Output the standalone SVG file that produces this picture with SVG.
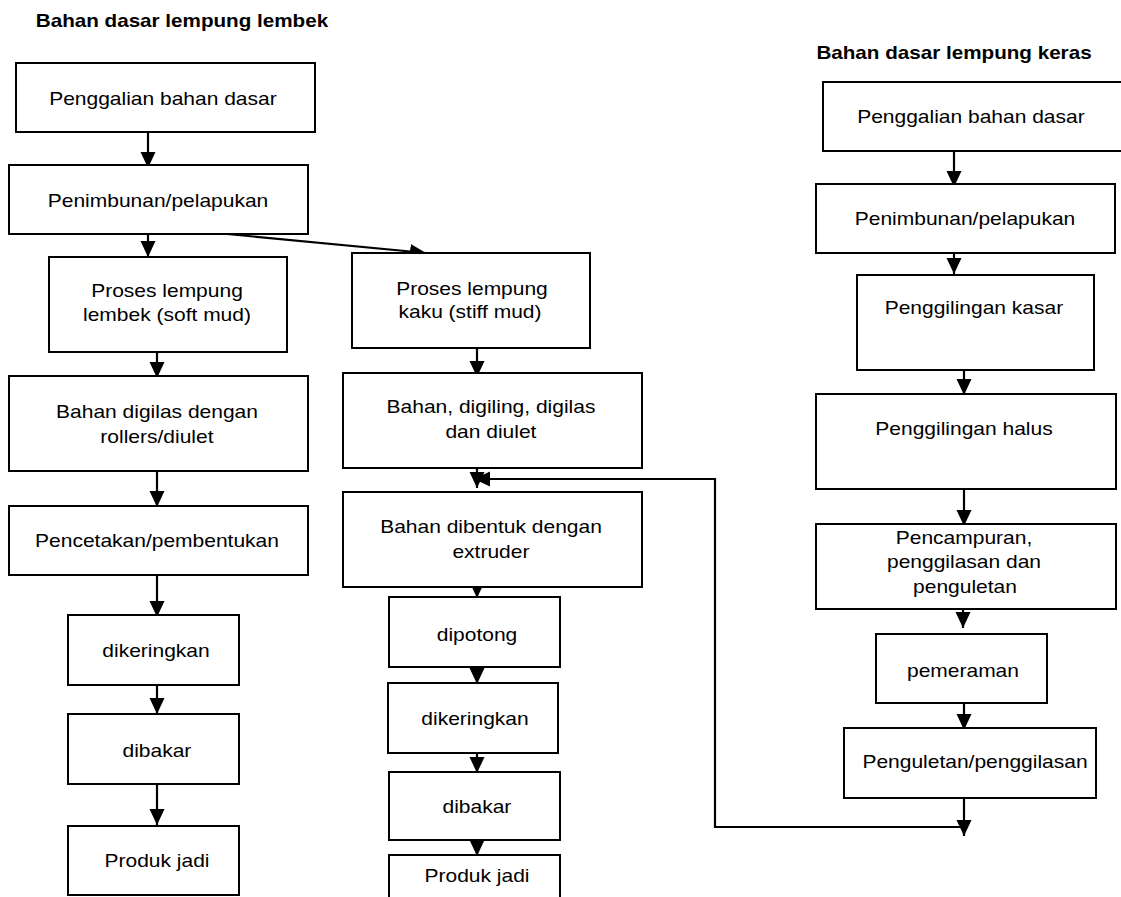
<svg xmlns="http://www.w3.org/2000/svg" width="1121" height="897" viewBox="0 0 1121 897">
<style>
  .box { fill: #ffffff; stroke: #000000; stroke-width: 2; }
  .t { font-family: "Liberation Sans", Arial, sans-serif; font-size: 17.5px; fill: #000000; text-anchor: middle; transform-box: fill-box; transform-origin: center; transform: scaleX(1.2); }
  .title { font-family: "Liberation Sans", Arial, sans-serif; font-size: 17.5px; font-weight: bold; fill: #000000; text-anchor: middle; transform-box: fill-box; transform-origin: center; transform: scaleX(1.18); }
  .conn { fill: none; stroke: #000000; stroke-width: 2.2; }
  .arr { marker-end: url(#ah); }
</style>
<defs>
  <marker id="ah" markerUnits="userSpaceOnUse" markerWidth="17" markerHeight="16" refX="16" refY="7.5" orient="auto">
    <path d="M0,0 L16,7.5 L0,15 z" fill="#000000"/>
  </marker>
</defs>
<rect width="1121" height="897" fill="#ffffff"/>

<text class="title" x="182" y="27">Bahan dasar lempung lembek</text>
<text class="title" x="954" y="59">Bahan dasar lempung keras</text>

<g id="connectors">
  <line class="conn arr" x1="148" y1="132" x2="148" y2="168"/>
  <line class="conn arr" x1="148" y1="234" x2="148" y2="257"/>
  <line class="conn arr" x1="227" y1="234" x2="426" y2="253"/>
  <line class="conn arr" x1="157" y1="352" x2="157" y2="378"/>
  <line class="conn arr" x1="157" y1="471" x2="157" y2="507"/>
  <line class="conn arr" x1="157" y1="575" x2="157" y2="617"/>
  <line class="conn arr" x1="157" y1="685" x2="157" y2="714"/>
  <line class="conn arr" x1="157" y1="784" x2="157" y2="825"/>

  <line class="conn arr" x1="477" y1="348" x2="477" y2="377"/>
  <line class="conn arr" x1="477" y1="468" x2="477" y2="488"/>
  <line class="conn arr" x1="477" y1="587" x2="477" y2="598"/>
  <line class="conn arr" x1="477" y1="667" x2="477" y2="684"/>
  <line class="conn arr" x1="477" y1="753" x2="477" y2="773"/>
  <line class="conn arr" x1="477" y1="840" x2="477" y2="856"/>

  <line class="conn arr" x1="954" y1="151" x2="954" y2="187"/>
  <line class="conn arr" x1="954" y1="253" x2="954" y2="274"/>
  <line class="conn arr" x1="964" y1="370" x2="964" y2="395"/>
  <line class="conn arr" x1="964" y1="489" x2="964" y2="526"/>
  <line class="conn arr" x1="963" y1="609" x2="963" y2="628"/>
  <line class="conn arr" x1="964" y1="703" x2="964" y2="730"/>
  <line class="conn arr" x1="964" y1="798" x2="964" y2="836"/>
  <polyline class="conn arr" points="964,827 715,827 715,479 474,479"/>
</g>

<g id="n-l1"><rect class="box" x="16" y="63" width="299" height="69"/><text class="t" x="163" y="105">Penggalian bahan dasar</text></g>
<g id="n-l2"><rect class="box" x="9" y="165" width="299" height="69"/><text class="t" x="158" y="207">Penimbunan/pelapukan</text></g>
<g id="n-l3"><rect class="box" x="49" y="257" width="238" height="95"/><text class="t" x="167" y="297">Proses lempung</text><text class="t" x="167" y="321">lembek (soft mud)</text></g>
<g id="n-l4"><rect class="box" x="9" y="376" width="299" height="95"/><text class="t" x="157" y="418">Bahan digilas dengan</text><text class="t" x="157" y="443">rollers/diulet</text></g>
<g id="n-l5"><rect class="box" x="9" y="506" width="299" height="69"/><text class="t" x="157" y="547">Pencetakan/pembentukan</text></g>
<g id="n-l6"><rect class="box" x="68" y="615" width="171" height="70"/><text class="t" x="156" y="657">dikeringkan</text></g>
<g id="n-l7"><rect class="box" x="68" y="714" width="171" height="70"/><text class="t" x="157" y="757">dibakar</text></g>
<g id="n-l8"><rect class="box" x="68" y="826" width="171" height="69"/><text class="t" x="157" y="867">Produk jadi</text></g>

<g id="n-m1"><rect class="box" x="352" y="253" width="238" height="95"/><text class="t" x="472" y="295">Proses lempung</text><text class="t" x="470" y="318">kaku (stiff mud)</text></g>
<g id="n-m2"><rect class="box" x="343" y="373" width="299" height="95"/><text class="t" x="491" y="413">Bahan, digiling, digilas</text><text class="t" x="491" y="438">dan diulet</text></g>
<g id="n-m3"><rect class="box" x="343" y="492" width="299" height="95"/><text class="t" x="491" y="533">Bahan dibentuk dengan</text><text class="t" x="491" y="558">extruder</text></g>
<g id="n-m4"><rect class="box" x="389" y="597" width="171" height="70"/><text class="t" x="477" y="641">dipotong</text></g>
<g id="n-m5"><rect class="box" x="388" y="683" width="170" height="70"/><text class="t" x="475" y="725">dikeringkan</text></g>
<g id="n-m6"><rect class="box" x="389" y="772" width="171" height="68"/><text class="t" x="477" y="813">dibakar</text></g>
<g id="n-m7"><rect class="box" x="389" y="855" width="171" height="60"/><text class="t" x="477" y="882">Produk jadi</text></g>

<g id="n-r1"><rect class="box" x="823" y="82" width="300" height="69"/><text class="t" x="971" y="123">Penggalian bahan dasar</text></g>
<g id="n-r2"><rect class="box" x="816" y="184" width="299" height="69"/><text class="t" x="965" y="225">Penimbunan/pelapukan</text></g>
<g id="n-r3"><rect class="box" x="857" y="275" width="237" height="95"/><text class="t" x="974" y="314">Penggilingan kasar</text></g>
<g id="n-r4"><rect class="box" x="816" y="394" width="300" height="95"/><text class="t" x="964" y="435">Penggilingan halus</text></g>
<g id="n-r5"><rect class="box" x="816" y="524" width="300" height="85"/><text class="t" x="964" y="544">Pencampuran,</text><text class="t" x="964" y="568">penggilasan dan</text><text class="t" x="965" y="593">penguletan</text></g>
<g id="n-r6"><rect class="box" x="876" y="634" width="171" height="69"/><text class="t" x="963" y="677">pemeraman</text></g>
<g id="n-r7"><rect class="box" x="844" y="728" width="252" height="70"/><text class="t" x="975" y="768">Penguletan/penggilasan</text></g>
</svg>
